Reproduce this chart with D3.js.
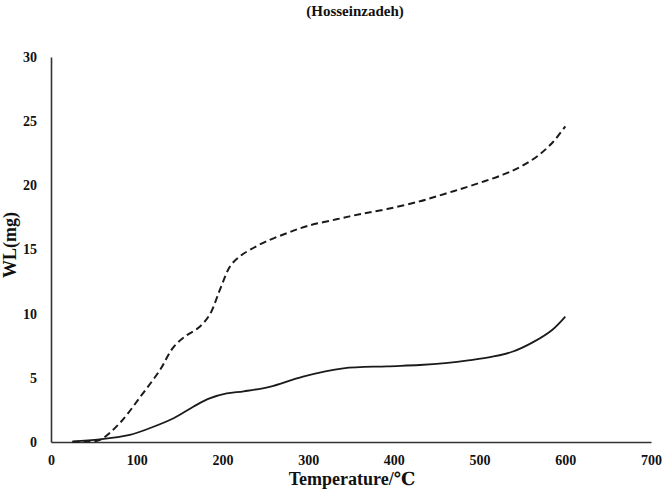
<!DOCTYPE html>
<html>
<head>
<meta charset="utf-8">
<script src="https://cdn.jsdelivr.net/npm/d3@7"></script>
<style>
  body { margin: 0; background: #fff; }
  svg { display: block; }
</style>
</head>
<body>
<svg id="chart" width="663" height="494"></svg>
<script>
// ---- data ----
const chartTitle = "(Hosseinzadeh)";
const xTitle = "Temperature/\u2103";
const yTitle = "WL(mg)";
const xTicks = [0, 100, 200, 300, 400, 500, 600, 700];
const yTicks = [0, 5, 10, 15, 20, 25, 30];

const dashedTemp = [25, 40, 57, 80, 104, 127, 143, 158, 172, 185, 197, 209, 220, 232, 250, 275, 300, 333, 360, 392, 430, 460, 489, 528, 548, 568, 586, 600];
const dashedWL   = [0, 0.03, 0.16, 1.46, 3.5, 5.6, 7.4, 8.3, 8.9, 9.9, 11.85, 13.7, 14.45, 14.97, 15.6, 16.27, 16.85, 17.35, 17.75, 18.15, 18.75, 19.35, 19.95, 20.85, 21.45, 22.3, 23.4, 24.6];

const solidTemp = [25, 57, 92, 115, 143, 166, 185, 205, 225, 255, 294, 341, 392, 430, 460, 489, 515, 539, 563, 585, 600];
const solidWL   = [0.05, 0.2, 0.55, 1.07, 1.85, 2.75, 3.4, 3.78, 3.95, 4.3, 5.1, 5.74, 5.9, 6.0, 6.15, 6.38, 6.65, 7.05, 7.8, 8.75, 9.77];

// ---- layout ----
const FONT = "'Liberation Serif', 'Times New Roman', Times, 'DejaVu Serif', serif";
const svg = d3.select("#chart");
const x = d3.scaleLinear().domain([0, 700]).range([51, 651]);
const y = d3.scaleLinear().domain([0, 30]).range([442, 57]);

const xAxis = d3.axisBottom(x).tickValues(xTicks).tickSize(0).tickPadding(13).tickFormat(d3.format("d"));
const yAxis = d3.axisLeft(y).tickValues(yTicks).tickSize(0).tickPadding(14).tickFormat(d3.format("d"));

const gx = svg.append("g").attr("transform", `translate(0,${y(0)})`).call(xAxis);
const gy = svg.append("g").attr("transform", `translate(${x(0)},0)`).call(yAxis);
[gx, gy].forEach(g => {
  g.attr("font-family", FONT).attr("font-size", 14).attr("font-weight", "bold");
  g.select(".domain").attr("stroke", "#333").attr("stroke-width", 1.6);
  g.selectAll("text").attr("fill", "#111");
});

const line = d3.line().x(d => x(d[0])).y(d => y(d[1])).curve(d3.curveCatmullRom.alpha(0.5));

svg.append("path")
  .datum(dashedTemp.map((t, i) => [t, dashedWL[i]]))
  .attr("d", line).attr("fill", "none").attr("stroke", "#1a1a1a")
  .attr("stroke-width", 2).attr("stroke-dasharray", "7,4");

svg.append("path")
  .datum(solidTemp.map((t, i) => [t, solidWL[i]]))
  .attr("d", line).attr("fill", "none").attr("stroke", "#1a1a1a")
  .attr("stroke-width", 1.8);

const titles = svg.append("g").attr("font-family", FONT).attr("font-weight", "bold").attr("fill", "#111");
titles.append("text").attr("x", 355).attr("y", 16).attr("text-anchor", "middle")
  .attr("font-size", 15).text(chartTitle);
titles.append("text").attr("x", 352).attr("y", 485).attr("text-anchor", "middle")
  .attr("font-size", 18).text(xTitle);
titles.append("text").attr("transform", "translate(16,245) rotate(-90)").attr("text-anchor", "middle")
  .attr("font-size", 18).text(yTitle);
</script>
</body>
</html>
